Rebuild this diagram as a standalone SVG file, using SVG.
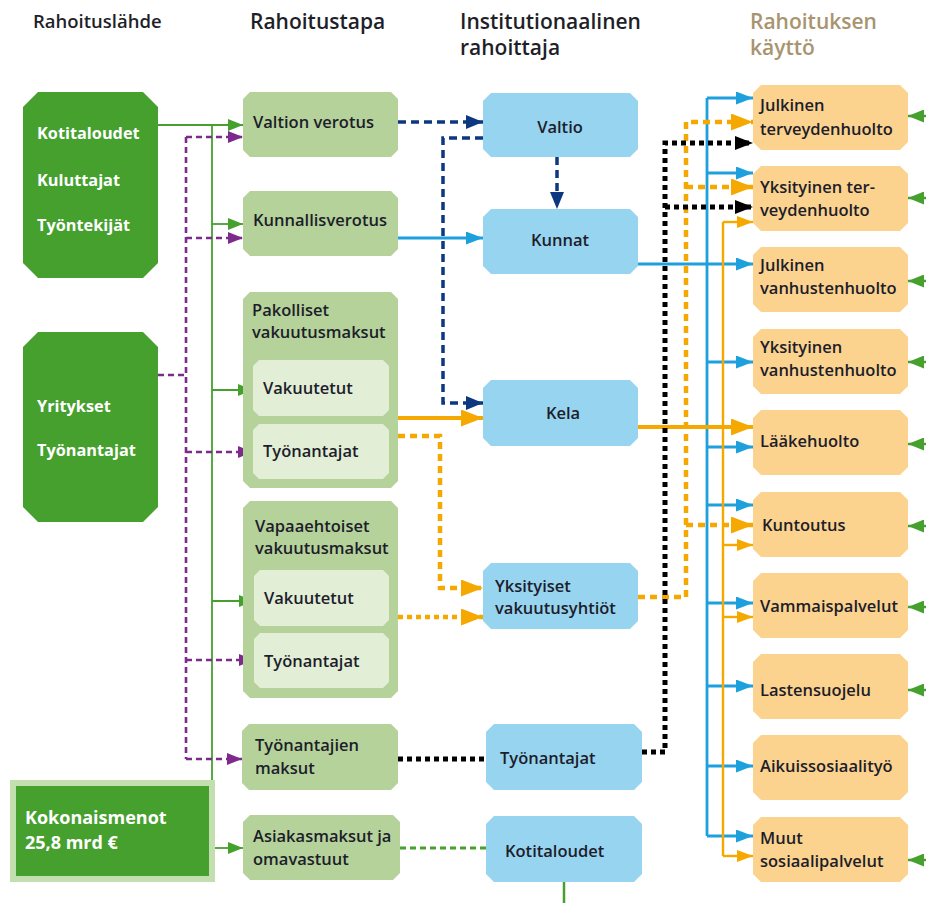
<svg xmlns="http://www.w3.org/2000/svg" xmlns:xlink="http://www.w3.org/1999/xlink" width="926" height="903" viewBox="0 0 926 903">
<style>
text{font-family:"Open Sans","Liberation Sans",sans-serif;}
.hd{font-size:21px;font-weight:600;fill:#1f1f2a;}
.hd1{font-size:18.5px;font-weight:600;fill:#1f1f2a;}
.hd2{font-size:21px;font-weight:600;fill:#a8946f;}
.t{font-size:16.5px;font-weight:600;fill:#1d1d2b;}
.w{font-size:16.3px;font-weight:700;fill:#ffffff;}
.src{fill:#45a02e;}
.lg{fill:#b5d29a;}
.lgi{fill:#e2eed6;}
.bl{fill:#97d4f0;}
.or{fill:#fbd38e;}
.cg{fill:none;stroke:#45a02e;stroke-width:1.8;}
.cp{fill:none;stroke:#7d2a8c;stroke-width:2.6;stroke-dasharray:6 4;}
.cn{fill:none;stroke:#0d3880;stroke-width:3.5;stroke-dasharray:8 5;}
.cb{fill:none;stroke:#1ea0dc;stroke-width:2.8;}
.co{fill:none;stroke:#f5a800;stroke-width:4;}
.cot{fill:none;stroke:#f5a800;stroke-width:2.4;}
.cod{fill:none;stroke:#f5a800;stroke-width:4.5;stroke-dasharray:7 5;}
.ck{fill:none;stroke:#000;stroke-width:5;stroke-dasharray:5 4;}
.cgd{fill:none;stroke:#45a02e;stroke-width:3;stroke-dasharray:6 4;}
.cgr{fill:none;stroke:#45a02e;stroke-width:2.5;}
</style>
<defs>
<marker id="aG" markerUnits="userSpaceOnUse" markerWidth="15" markerHeight="12" refX="15" refY="6" orient="auto"><path d="M0,0 L15,6 L0,12 Z" fill="#45a02e" stroke="none"/></marker>
<marker id="aGL" markerUnits="userSpaceOnUse" markerWidth="16" markerHeight="13" refX="16" refY="6.5" orient="auto"><path d="M0,0 L16,6.5 L0,13 Z" fill="#45a02e" stroke="none"/></marker>
<marker id="aP" markerUnits="userSpaceOnUse" markerWidth="15" markerHeight="12" refX="15" refY="6" orient="auto"><path d="M0,0 L15,6 L0,12 Z" fill="#7d2a8c" stroke="none"/></marker>
<marker id="aN" markerUnits="userSpaceOnUse" markerWidth="17" markerHeight="14" refX="17" refY="7" orient="auto"><path d="M0,0 L17,7 L0,14 Z" fill="#0d3880" stroke="none"/></marker>
<marker id="aB" markerUnits="userSpaceOnUse" markerWidth="17" markerHeight="13" refX="17" refY="6.5" orient="auto"><path d="M0,0 L17,6.5 L0,13 Z" fill="#1ea0dc" stroke="none"/></marker>
<marker id="aO" markerUnits="userSpaceOnUse" markerWidth="22" markerHeight="17" refX="22" refY="8.5" orient="auto"><path d="M0,0 L22,8.5 L0,17 Z" fill="#f5a800" stroke="none"/></marker>
<marker id="aOs" markerUnits="userSpaceOnUse" markerWidth="16" markerHeight="12" refX="16" refY="6" orient="auto"><path d="M0,0 L16,6 L0,12 Z" fill="#f5a800" stroke="none"/></marker>
<marker id="aK" markerUnits="userSpaceOnUse" markerWidth="18" markerHeight="14" refX="18" refY="7" orient="auto"><path d="M0,0 L18,7 L0,14 Z" fill="#000" stroke="none"/></marker>
<path id="ob" d="M8,0 H147 L155,8 V57 L147,65 H8 L0,57 V8 Z"/>
</defs>
<rect width="926" height="903" fill="#ffffff"/>

<g id="headers">
<text class="hd1" x="33" y="28">Rahoituslähde</text>
<text class="hd" x="250" y="29">Rahoitustapa</text>
<text class="hd" x="460" y="29">Institutionaalinen</text>
<text class="hd" x="460" y="55">rahoittaja</text>
<text class="hd2" x="750" y="29">Rahoituksen</text>
<text class="hd2" x="750" y="55">käyttö</text>
</g>

<g id="connectors">
<path class="cg" d="M158,125 H243" marker-end="url(#aG)"/>
<path class="cg" d="M212,125 V780"/>
<path class="cg" d="M212,224 H243" marker-end="url(#aG)"/>
<path class="cg" d="M212,390 H253" marker-end="url(#aG)"/>
<path class="cg" d="M212,601 H254" marker-end="url(#aG)"/>
<path class="cg" d="M215,848 H243" marker-end="url(#aG)"/>
<path class="cp" d="M158,375 H186"/>
<path class="cp" d="M186,137 V759"/>
<path class="cp" d="M186,137 H243" marker-end="url(#aP)"/>
<path class="cp" d="M186,238 H243" marker-end="url(#aP)"/>
<path class="cp" d="M186,452 H253" marker-end="url(#aP)"/>
<path class="cp" d="M186,660 H254" marker-end="url(#aP)"/>
<path class="cp" d="M186,759 H242" marker-end="url(#aP)"/>
<path class="cn" d="M398,122 H483" marker-end="url(#aN)"/>
<path class="cn" d="M483,138 H443 V403 H483" marker-end="url(#aN)"/>
<path class="cn" d="M557,157 V209" marker-end="url(#aN)"/>
<path class="cb" d="M398,238 H483" marker-end="url(#aB)"/>
<path class="cb" d="M638,264 H753" marker-end="url(#aB)"/>
<path class="cb" d="M707,98 V836"/>
<path class="cb" d="M707,98 H753" marker-end="url(#aB)"/>
<path class="cb" d="M707,173 H753" marker-end="url(#aB)"/>
<path class="cb" d="M707,362 H753" marker-end="url(#aB)"/>
<path class="cb" d="M707,447 H753" marker-end="url(#aB)"/>
<path class="cb" d="M707,505 H753" marker-end="url(#aB)"/>
<path class="cb" d="M707,603 H753" marker-end="url(#aB)"/>
<path class="cb" d="M707,686 H753" marker-end="url(#aB)"/>
<path class="cb" d="M707,766 H753" marker-end="url(#aB)"/>
<path class="cb" d="M707,836 H753" marker-end="url(#aB)"/>
<path class="co" d="M398,418 H483" marker-end="url(#aO)"/>
<path class="co" d="M638,427 H753" marker-end="url(#aO)"/>
<path class="cot" d="M723,222 V856"/>
<path class="cot" d="M723,222 H753" marker-end="url(#aOs)"/>
<path class="cot" d="M723,545 H753" marker-end="url(#aOs)"/>
<path class="cot" d="M723,617 H753" marker-end="url(#aOs)"/>
<path class="cot" d="M723,856 H753" marker-end="url(#aOs)"/>
<path class="cod" d="M398,436 H440 V588 H483" marker-end="url(#aO)"/>
<path class="cod" d="M398,617 H483" style="stroke-dasharray:5 4" marker-end="url(#aO)"/>
<path class="cod" d="M638,597 H686 V122 H753" marker-end="url(#aO)"/>
<path class="cod" d="M686,187 H753" marker-end="url(#aO)"/>
<path class="cod" d="M686,525 H753" marker-end="url(#aO)"/>
<path class="ck" d="M398,759 H486"/>
<path class="ck" d="M642,752 H665 V143 H753" marker-end="url(#aK)"/>
<path class="ck" d="M665,207 H753" marker-end="url(#aK)"/>
<path class="cgd" d="M400,848 H486"/>
<path class="cgr" d="M564,882 V903"/>
<path class="cgr" d="M926,116 H908" marker-end="url(#aGL)"/>
<path class="cgr" d="M926,198 H908" marker-end="url(#aGL)"/>
<path class="cgr" d="M926,281 H908" marker-end="url(#aGL)"/>
<path class="cgr" d="M926,362 H908" marker-end="url(#aGL)"/>
<path class="cgr" d="M926,444 H908" marker-end="url(#aGL)"/>
<path class="cgr" d="M926,526 H908" marker-end="url(#aGL)"/>
<path class="cgr" d="M926,607 H908" marker-end="url(#aGL)"/>
<path class="cgr" d="M926,690 H908" marker-end="url(#aGL)"/>
<path class="cgr" d="M926,860 H908" marker-end="url(#aGL)"/>
</g>

<g id="src-kotitaloudet">
<path class="src" d="M38,92 H143 L158,107 V263 L143,278 H38 L23,263 V107 Z"/>
<text class="w" x="37" y="139">Kotitaloudet</text>
<text class="w" x="37" y="186">Kuluttajat</text>
<text class="w" x="37" y="231">Työntekijät</text>
</g>
<g id="src-yritykset">
<path class="src" d="M38,332 H143 L158,347 V507 L143,522 H38 L23,507 V347 Z"/>
<text class="w" x="37" y="412">Yritykset</text>
<text class="w" x="37" y="456">Työnantajat</text>
</g>
<g id="kokonaismenot">
<rect x="10" y="780" width="205" height="102" fill="#c3dfb0"/>
<rect x="16" y="786" width="193" height="90" fill="#45a02e"/>
<text class="w" x="25" y="824" style="font-size:18px">Kokonaismenot</text>
<text class="w" x="25" y="849" style="font-size:18px">25,8 mrd €</text>
</g>

<g id="valtion-verotus">
<path class="lg" d="M250,92 H391 L398,99 V150 L391,157 H250 L243,150 V99 Z"/>
<text class="t" x="253" y="128">Valtion verotus</text>
</g>
<g id="kunnallisverotus">
<path class="lg" d="M250,191 H391 L398,198 V249 L391,256 H250 L243,249 V198 Z"/>
<text class="t" x="253" y="226">Kunnallisverotus</text>
</g>
<g id="pakolliset">
<path class="lg" d="M250,292 H391 L398,299 V481 L391,488 H250 L243,481 V299 Z"/>
<text class="t" x="252" y="316">Pakolliset</text>
<text class="t" x="252" y="338">vakuutusmaksut</text>
<path class="lgi" d="M259,360 H383 L389,366 V410 L383,416 H259 L253,410 V366 Z"/>
<text class="t" x="263" y="394">Vakuutetut</text>
<path class="lgi" d="M259,424 H383 L389,430 V473 L383,479 H259 L253,473 V430 Z"/>
<text class="t" x="263" y="457">Työnantajat</text>
</g>
<g id="vapaaehtoiset">
<path class="lg" d="M250,501 H391 L398,508 V691 L391,698 H250 L243,691 V508 Z"/>
<text class="t" x="255" y="532">Vapaaehtoiset</text>
<text class="t" x="255" y="554">vakuutusmaksut</text>
<path class="lgi" d="M260,570 H383 L389,576 V620 L383,626 H260 L254,620 V576 Z"/>
<text class="t" x="264" y="604">Vakuutetut</text>
<path class="lgi" d="M260,633 H383 L389,639 V682 L383,688 H260 L254,682 V639 Z"/>
<text class="t" x="264" y="667">Työnantajat</text>
</g>
<g id="tyonantajien-maksut">
<path class="lg" d="M249,724 H391 L398,731 V783 L391,790 H249 L242,783 V731 Z"/>
<text class="t" x="255" y="751">Työnantajien</text>
<text class="t" x="255" y="774">maksut</text>
</g>
<g id="asiakasmaksut">
<path class="lg" d="M250,815 H393 L400,822 V873 L393,880 H250 L243,873 V822 Z"/>
<text class="t" x="253" y="842">Asiakasmaksut ja</text>
<text class="t" x="253" y="865">omavastuut</text>
</g>

<g id="valtio">
<path class="bl" d="M491,93 H630 L638,101 V149 L630,157 H491 L483,149 V101 Z"/>
<text class="t" x="560" y="133" text-anchor="middle">Valtio</text>
</g>
<g id="kunnat">
<path class="bl" d="M491,209 H630 L638,217 V266 L630,274 H491 L483,266 V217 Z"/>
<text class="t" x="560" y="246" text-anchor="middle">Kunnat</text>
</g>
<g id="kela">
<path class="bl" d="M491,380 H630 L638,388 V438 L630,446 H491 L483,438 V388 Z"/>
<text class="t" x="563" y="419" text-anchor="middle">Kela</text>
</g>
<g id="yksityiset-vakuutusyhtiot">
<path class="bl" d="M491,563 H630 L638,571 V621 L630,629 H491 L483,621 V571 Z"/>
<text class="t" x="495" y="592">Yksityiset</text>
<text class="t" x="495" y="614">vakuutusyhtiöt</text>
</g>
<g id="tyonantajat-inst">
<path class="bl" d="M494,724 H634 L642,732 V782 L634,790 H494 L486,782 V732 Z"/>
<text class="t" x="500" y="764">Työnantajat</text>
</g>
<g id="kotitaloudet-inst">
<path class="bl" d="M494,816 H634 L642,824 V874 L634,882 H494 L486,874 V824 Z"/>
<text class="t" x="505" y="857">Kotitaloudet</text>
</g>

<g id="julkinen-terveydenhuolto">
<use xlink:href="#ob" x="753" y="85" class="or"/>
<text class="t" x="760" y="111">Julkinen</text>
<text class="t" x="760" y="135">terveydenhuolto</text>
</g>
<g id="yksityinen-terveydenhuolto">
<use xlink:href="#ob" x="753" y="166" class="or"/>
<text class="t" x="760" y="193">Yksityinen ter-</text>
<text class="t" x="760" y="216">veydenhuolto</text>
</g>
<g id="julkinen-vanhustenhuolto">
<use xlink:href="#ob" x="753" y="247" class="or"/>
<text class="t" x="760" y="271">Julkinen</text>
<text class="t" x="760" y="294">vanhustenhuolto</text>
</g>
<g id="yksityinen-vanhustenhuolto">
<use xlink:href="#ob" x="753" y="329" class="or"/>
<text class="t" x="760" y="353">Yksityinen</text>
<text class="t" x="760" y="376">vanhustenhuolto</text>
</g>
<g id="laakehuolto">
<use xlink:href="#ob" x="753" y="410" class="or"/>
<text class="t" x="760" y="447">Lääkehuolto</text>
</g>
<g id="kuntoutus">
<use xlink:href="#ob" x="753" y="492" class="or"/>
<text class="t" x="762" y="531">Kuntoutus</text>
</g>
<g id="vammaispalvelut">
<use xlink:href="#ob" x="753" y="573" class="or"/>
<text class="t" x="760" y="612">Vammaispalvelut</text>
</g>
<g id="lastensuojelu">
<use xlink:href="#ob" x="753" y="654" class="or"/>
<text class="t" x="760" y="696">Lastensuojelu</text>
</g>
<g id="aikuissosiaalityo">
<use xlink:href="#ob" x="753" y="735" class="or"/>
<text class="t" x="760" y="772">Aikuissosiaalityö</text>
</g>
<g id="muut-sosiaalipalvelut">
<use xlink:href="#ob" x="753" y="817" class="or"/>
<text class="t" x="760" y="844">Muut</text>
<text class="t" x="760" y="867">sosiaalipalvelut</text>
</g>
</svg>
